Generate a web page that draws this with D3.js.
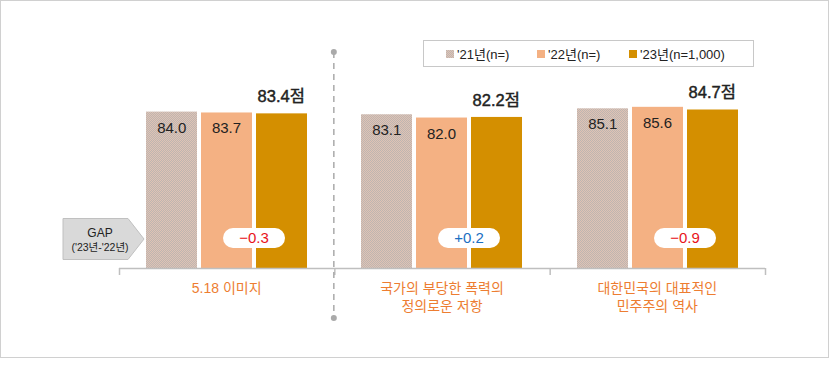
<!DOCTYPE html>
<html>
<head>
<meta charset="utf-8">
<script src="https://cdn.jsdelivr.net/npm/d3@7"></script>
<style>
  body { margin: 0; background: #fff; }
  text { font-family: "Liberation Sans", Arial, "Noto Sans CJK KR", sans-serif; }
</style>
</head>
<body>
<div id="chart"></div>
<script>
// data
const categories = ["5.18 이미지", "국가의 부당한 폭력의|정의로운 저항", "대한민국의 대표적인|민주주의 역사"];
const seriesNames = ["'21년(n=)", "'22년(n=)", "'23년(n=1,000)"];
const values21 = [84.0, 83.1, 85.1];
const values22 = [83.7, 82.0, 85.6];
const values23 = [83.4, 82.2, 84.7];

const colors = ["url(#dots)", "#f4b183", "#d48f00"];

const width = 830, height = 370;
const svg = d3.select("#chart").append("svg")
  .attr("width", width).attr("height", height);

// pattern for the '21 bars
const defs = svg.append("defs");
const pat = defs.append("pattern").attr("id", "dots")
  .attr("patternUnits", "userSpaceOnUse").attr("width", 2).attr("height", 2);
pat.append("rect").attr("width", 2).attr("height", 2).attr("fill", "#dfc3b5");
pat.append("rect").attr("width", 1).attr("height", 1).attr("fill", "#bfb5b0");
pat.append("rect").attr("x", 1).attr("y", 1).attr("width", 1).attr("height", 1).attr("fill", "#bfb5b0");

// outer frame
svg.append("rect").attr("x", 0.5).attr("y", 0.5).attr("width", 828).attr("height", 357)
  .attr("fill", "none").attr("stroke", "#d0d0d0");

const x0 = d3.scaleBand().domain(categories).range([119, 765]);
const x1 = d3.scaleBand().domain(seriesNames).range([27, 188]).paddingInner(0.06);
const y = d3.scaleLinear().domain([31.4, 100]).range([268, 64]);

const rows = categories.map((c, i) => ({
  cat: c,
  vals: [values21[i], values22[i], values23[i]]
}));

// bars
const g = svg.append("g").selectAll("g").data(rows).enter().append("g")
  .attr("transform", d => "translate(" + Math.round(x0(d.cat)) + ",0)");

g.selectAll("rect").data(d => d.vals.map((v, j) => ({ v, s: seriesNames[j], j })))
  .enter().append("rect")
  .attr("x", d => Math.round(x1(d.s)))
  .attr("y", d => y(d.v))
  .attr("width", Math.round(x1.bandwidth()))
  .attr("height", d => y.range()[0] - y(d.v))
  .attr("fill", d => colors[d.j]);

// value labels ('23 on top of the bar, others inside)
g.selectAll("text.val").data(d => d.vals.map((v, j) => ({ v, s: seriesNames[j], j })))
  .enter().append("text")
  .attr("class", "val")
  .attr("x", d => x1(d.s) + x1.bandwidth() / 2)
  .attr("y", d => d.j === 2 ? y(d.v) - 11 : y(d.v) + 21)
  .attr("text-anchor", "middle")
  .attr("font-size", d => d.j === 2 ? 16.5 : 15)
  .attr("fill", "#222")
  .attr("stroke", d => d.j === 2 ? "#222" : "none")
  .attr("stroke-width", 0.45)
  .text(d => d.j === 2 ? d.v.toFixed(1) + "점" : d.v.toFixed(1));

// gap pills ('23 - '22)
const pill = g.append("g")
  .attr("transform", d => "translate(" + (x1(seriesNames[2]) - 1.5) + ",238)");
pill.append("rect").attr("x", -31).attr("y", -10).attr("width", 62).attr("height", 20)
  .attr("rx", 10).attr("fill", "#fff");
pill.append("text")
  .attr("text-anchor", "middle").attr("dy", "0.36em").attr("font-size", 15)
  .attr("fill", d => (d.vals[2] - d.vals[1]) >= 0 ? "#1a6fc2" : "#e8141b")
  .text(d => {
    const gap = Math.round((d.vals[2] - d.vals[1]) * 10) / 10;
    return (gap >= 0 ? "+" : "\u2212") + Math.abs(gap).toFixed(1);
  });

// axis
const axisG = svg.append("g");
axisG.append("line").attr("x1", x0.range()[0]).attr("x2", x0.range()[1])
  .attr("y1", 268.5).attr("y2", 268.5).attr("stroke", "#bfbfbf").attr("stroke-width", 1.5);
axisG.selectAll("line.tick").data([...categories.map(c => x0(c)), x0.range()[1]])
  .enter().append("line").attr("class", "tick")
  .attr("x1", d => d + 0.5).attr("x2", d => d + 0.5)
  .attr("y1", 268).attr("y2", 275).attr("stroke", "#bfbfbf").attr("stroke-width", 1.5);

// category labels
const catLab = svg.append("g").selectAll("text").data(categories).enter().append("text")
  .attr("x", d => x0(d) + x0.bandwidth() / 2)
  .attr("y", 293)
  .attr("text-anchor", "middle").attr("font-size", 14).attr("fill", "#ed7d31");
catLab.selectAll("tspan").data(d => d.split("|")).enter().append("tspan")
  .attr("x", function () { return d3.select(this.parentNode).attr("x"); })
  .attr("dy", (d, i) => i === 0 ? 0 : 18)
  .text(d => d);

// dashed divider
const divX = x0(categories[1]) - 0.5;
svg.append("line").attr("x1", divX).attr("x2", divX).attr("y1", 52).attr("y2", 318)
  .attr("stroke", "#aaa").attr("stroke-width", 1.5).attr("stroke-dasharray", "6,5");
svg.append("circle").attr("cx", divX).attr("cy", 52).attr("r", 3).attr("fill", "#aaa");
svg.append("circle").attr("cx", divX).attr("cy", 318).attr("r", 3).attr("fill", "#aaa");

// GAP marker
const gapG = svg.append("g");
gapG.append("path")
  .attr("d", "M63,218.5 L128,218.5 L144,239 L128,259.5 L63,259.5 Z")
  .attr("fill", "#d9d9d9").attr("stroke", "#c0c0c0");
gapG.append("text").attr("x", 100).attr("y", 237).attr("text-anchor", "middle")
  .attr("font-size", 12).attr("fill", "#222").text("GAP");
gapG.append("text").attr("x", 100).attr("y", 251).attr("text-anchor", "middle")
  .attr("font-size", 10.5).attr("fill", "#222").text("('23년-'22년)");

// legend
const leg = svg.append("g");
leg.append("rect").attr("x", 423.5).attr("y", 40.5).attr("width", 330).attr("height", 26)
  .attr("fill", "#fff").attr("stroke", "#c8c8c8");
const legX = [446, 537, 629];
const li = leg.selectAll("g").data(seriesNames).enter().append("g")
  .attr("transform", (d, i) => "translate(" + legX[i] + ",54)");
li.append("rect").attr("x", 0).attr("y", -4).attr("width", 8).attr("height", 8)
  .attr("fill", (d, i) => colors[i]);
li.append("text").attr("x", 11).attr("dy", "0.36em").attr("font-size", 13).attr("fill", "#222")
  .text(d => d);
</script>
</body>
</html>
